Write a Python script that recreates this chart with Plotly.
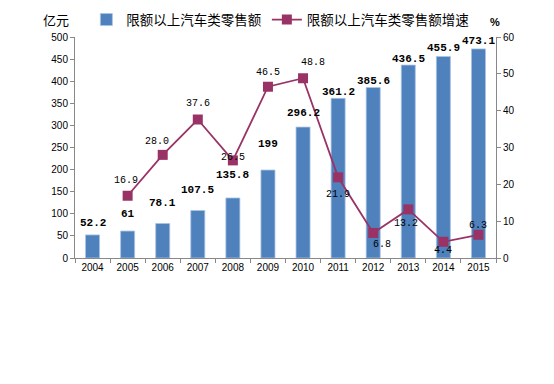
import plotly.graph_objects as go

years = ["2004", "2005", "2006", "2007", "2008", "2009", "2010", "2011", "2012", "2013", "2014", "2015"]
sales = [52.2, 61, 78.1, 107.5, 135.8, 199, 296.2, 361.2, 385.6, 436.5, 455.9, 473.1]
sales_labels = ["52.2", "61", "78.1", "107.5", "135.8", "199", "296.2", "361.2", "385.6", "436.5", "455.9", "473.1"]
growth = [None, 16.9, 28.0, 37.6, 26.5, 46.5, 48.8, 21.9, 6.8, 13.2, 4.4, 6.3]
growth_labels = ["", "16.9", "28.0", "37.6", "26.5", "46.5", "48.8", "21.9", "6.8", "13.2", "4.4", "6.3"]

bar_name = "限额以上汽车类零售额"
line_name = "限额以上汽车类零售额增速"

# label offsets (px) relative to the mark
bar_dy = [12, 17, 20, 20, 23, 26, 14, 6, 7, 6, 8, 8]
line_dy = [0, 15, 13, 16, 3, 14, 16, -17, -12, -14, -9, 9]
line_dx = [0, -2, -6, 0, 0, 0, 10, 0, 9, -2, 0, 0]

BAR = "#4F81BD"
LINE = "#993366"
AXIS = "#888888"

fig = go.Figure()
fig.add_trace(go.Bar(
    x=years, y=sales, name=bar_name, width=0.4,
    marker=dict(color=BAR, line=dict(color="#A9C4E4", width=0.8)),
    yaxis="y",
))
fig.add_trace(go.Scatter(
    x=years, y=growth, name=line_name, mode="lines+markers",
    line=dict(color=LINE, width=1.8),
    marker=dict(symbol="square", size=10, color=LINE),
    yaxis="y2",
))

ann = []
for i, (v, t, dy) in enumerate(zip(sales, sales_labels, bar_dy)):
    ann.append(dict(x=i, y=v, xref="x", yref="y", text="<b>" + t + "</b>", showarrow=False,
                    yshift=dy, font=dict(family="Liberation Mono", size=11, color="black")))
for i, (v, t, dy, dx) in enumerate(zip(growth, growth_labels, line_dy, line_dx)):
    if v is None:
        continue
    ann.append(dict(x=i, y=v, xref="x", yref="y2", text=t, showarrow=False,
                    yshift=dy, xshift=dx, font=dict(family="Liberation Mono", size=10, color="black")))
ann.append(dict(x=-0.045, y=1.078, xref="paper", yref="paper", text="亿元", showarrow=False,
                xanchor="center", yanchor="middle",
                font=dict(family="Noto Sans CJK SC", size=13, color="black")))
ann.append(dict(x=0.997, y=1.068, xref="paper", yref="paper", text="<b>%</b>", showarrow=False,
                xanchor="center", yanchor="middle",
                font=dict(family="Liberation Sans", size=11, color="black")))

fig.update_layout(
    width=554, height=384,
    margin=dict(l=67, r=66, t=29, b=134, autoexpand=False),
    plot_bgcolor="white", paper_bgcolor="white",
    showlegend=True,
    legend=dict(orientation="h", x=0.027, y=1.078, xanchor="left", yanchor="middle",
                font=dict(family="Noto Sans CJK SC", size=13.5, color="black"),
                bgcolor="rgba(0,0,0,0)", itemwidth=30, tracegroupgap=0),
    bargap=0.6,
    xaxis=dict(type="category", range=[-0.5, 11.5], showline=True, linecolor=AXIS, linewidth=1,
               ticks="outside", tickson="boundaries", ticklen=4, tickcolor=AXIS,
               tickfont=dict(family="Liberation Sans", size=10, color="black"),
               tickangle=0, showgrid=False, zeroline=False),
    yaxis=dict(range=[0, 500], dtick=50, showline=True, linecolor=AXIS, linewidth=1,
               ticks="outside", ticklen=4, tickcolor=AXIS, showgrid=False, zeroline=False,
               tickfont=dict(family="Liberation Sans", size=10, color="black")),
    yaxis2=dict(range=[0, 60], dtick=10, overlaying="y", side="right", showline=True,
                linecolor=AXIS, linewidth=1, ticks="outside", ticklen=4, tickcolor=AXIS,
                showgrid=False, zeroline=False,
                tickfont=dict(family="Liberation Sans", size=10, color="black")),
    annotations=ann,
)

fig.write_html("out.html")
